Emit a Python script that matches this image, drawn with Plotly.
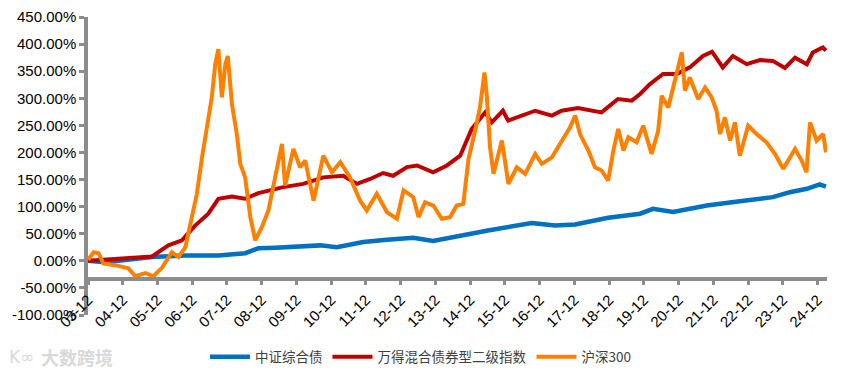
import plotly.graph_objects as go

# ---- data (decimal year, cumulative return %) ----
bond_t = [2003.92, 2004.32, 2004.79, 2005.76, 2006.72, 2007.67, 2008.44, 2008.82, 2009.31,
          2010.60, 2011.08, 2011.84, 2012.52, 2013.28, 2013.85, 2014.48, 2015.43, 2016.69,
          2017.36, 2017.94, 2018.89, 2019.81, 2020.18, 2020.76, 2021.73, 2022.68, 2023.63,
          2024.12, 2024.61, 2024.98, 2025.16]
bond_v = [0, -2, 0, 7, 10, 10, 14, 23, 24,
          28.5, 25, 34.6, 39, 42.7, 36.5, 45, 56, 69.7,
          65, 67, 79.5, 87, 96, 90, 102, 110, 117.5,
          126.7, 133, 141, 137]

mix_t = [2003.92, 2004.32, 2005.08, 2005.76, 2006.23, 2006.62, 2007.00, 2007.38, 2007.67,
         2008.06, 2008.44, 2008.82, 2009.21, 2009.54, 2010.11, 2010.69, 2011.26, 2011.66,
         2012.04, 2012.41, 2012.70, 2013.10, 2013.39, 2013.85, 2014.25, 2014.63, 2014.96,
         2015.35, 2015.54, 2015.86, 2016.01, 2016.79, 2017.27, 2017.55, 2018.02, 2018.70,
         2019.17, 2019.57, 2019.81, 2020.09, 2020.47, 2020.87, 2021.24, 2021.62, 2021.88,
         2022.19, 2022.48, 2022.88, 2023.26, 2023.63, 2023.98, 2024.27, 2024.61, 2024.78,
         2025.07, 2025.16]
mix_v = [0, 2, 5, 8, 28.5, 37.7, 65, 87, 114.5,
         118.8, 114.5, 125, 131, 136, 142, 154, 157, 142,
         151, 162, 157, 173, 176, 163.5, 176, 194, 243,
         274, 255.6, 277, 259, 277, 268, 277, 282, 274,
         298.6, 295.6, 308, 326, 345, 345, 357, 378, 386,
         357, 378, 363, 370.5, 369, 356, 375, 363, 384.5,
         393.7, 388]

hs300_t = [2003.92, 2004.08, 2004.22, 2004.36, 2004.70, 2005.08, 2005.28, 2005.57, 2005.80,
           2006.05, 2006.33, 2006.52, 2006.72, 2006.91, 2007.05, 2007.20, 2007.34, 2007.48,
           2007.58, 2007.67, 2007.77, 2007.87, 2007.94, 2008.06, 2008.20, 2008.30, 2008.44,
           2008.59, 2008.73, 2008.92, 2009.11, 2009.31, 2009.50, 2009.59, 2009.83, 2010.02,
           2010.17, 2010.41, 2010.69, 2010.94, 2011.18, 2011.46, 2011.75, 2011.94, 2012.23,
           2012.52, 2012.81, 2013.00, 2013.28, 2013.43, 2013.62, 2013.86, 2014.10, 2014.34,
           2014.53, 2014.72, 2014.87, 2015.06, 2015.20, 2015.33, 2015.40, 2015.49, 2015.59,
           2015.83, 2016.02, 2016.26, 2016.50, 2016.79, 2016.98, 2017.27, 2017.55, 2017.79,
           2017.94, 2018.08, 2018.32, 2018.51, 2018.70, 2018.89, 2019.04, 2019.18, 2019.33,
           2019.47, 2019.71, 2019.90, 2020.14, 2020.33, 2020.43, 2020.62, 2020.76, 2020.91,
           2021.01, 2021.10, 2021.24, 2021.48, 2021.68, 2021.87, 2022.01, 2022.11, 2022.25,
           2022.40, 2022.54, 2022.68, 2022.92, 2023.16, 2023.45, 2023.69, 2023.93, 2024.27,
           2024.46, 2024.60, 2024.70, 2024.89, 2025.08, 2025.16]
hs300_v = [2, 16, 14, -5, -8, -14, -28.5, -22.5, -28.5,
           -12.5, 16, 7, 25, 80.7, 123.7, 191, 252.7, 301.7,
           363, 390.8, 301.7, 363, 378, 289.5, 234, 179, 154,
           80.7, 37.8, 62, 93, 154, 216, 139, 206.6, 172.7,
           185, 111, 194, 163.5, 182, 154, 111, 93, 123.7,
           90, 77.7, 130, 117.5, 80.7, 108, 102, 77.7, 80.7,
           102, 105, 188, 240, 283, 347.7, 301.7, 209.6, 160.6,
           222, 142, 172.7, 160.6, 197.4, 179, 191, 222, 246,
           268, 234, 203.5, 172.7, 166.7, 148, 203.5, 243.5, 203.5,
           228, 218.8, 249.5, 197.4, 240, 304.8, 283, 320, 357,
           384.5, 314, 338.5, 298.6, 320, 301.7, 277, 234, 264.8,
           222, 255.6, 194, 249.5, 234, 218.8, 197.4, 169.8, 206.6,
           185, 163.5, 255.6, 222, 234, 200]

series_names = ["中证综合债", "万得混合债券型二级指数", "沪深300"]
tick_years = list(range(2003, 2025))
tick_labels = ["03-12", "04-12", "05-12", "06-12", "07-12", "08-12", "09-12", "10-12",
               "11-12", "12-12", "13-12", "14-12", "15-12", "16-12", "17-12", "18-12",
               "19-12", "20-12", "21-12", "22-12", "23-12", "24-12"]
y_ticks = [450, 400, 350, 300, 250, 200, 150, 100, 50, 0, -50, -100]
y_tick_labels = ["450.00%", "400.00%", "350.00%", "300.00%", "250.00%", "200.00%",
                 "150.00%", "100.00%", "50.00%", "0.00%", "-50.00%", "-100.00%"]

colors = ["#0070C0", "#C00000", "#FF8000"]
axis_gray = "#8C8C8C"

fig = go.Figure()
for t, v, name, c, w in [(bond_t, bond_v, series_names[0], colors[0], 4.5),
                          (mix_t, mix_v, series_names[1], colors[1], 4),
                          (hs300_t, hs300_v, series_names[2], colors[2], 4)]:
    fig.add_trace(go.Scatter(x=t, y=v, mode="lines", name=name,
                             line=dict(color=c, width=w)))

tick_pos = [y + 11 / 12 for y in tick_years]

fig.update_layout(
    width=846, height=379,
    margin=dict(l=88, r=19, t=17, b=64, autoexpand=False),
    paper_bgcolor="white", plot_bgcolor="white",
    font=dict(family="Liberation Sans, Arial, sans-serif", size=15, color="#000000"),
    showlegend=True,
    legend=dict(orientation="h", xref="container", yref="container",
                x=0.497, xanchor="center", y=0.058, yanchor="middle",
                font=dict(family="Noto Sans CJK SC", size=13.5, color="#404040"),
                itemwidth=40, tracegroupgap=0),
    xaxis=dict(range=[2003 + 11 / 12, 2025.19], tickmode="array",
               tickvals=tick_pos, ticktext=tick_labels, tickangle=-45,
               showline=True, linecolor=axis_gray, linewidth=3.5,
               ticks="outside", ticklen=5, tickwidth=3, tickcolor=axis_gray,
               showgrid=False, zeroline=False, anchor="free", position=0.122,
               automargin=False, tickfont=dict(size=15)),
    yaxis=dict(range=[-100, 450], tickmode="array", tickvals=y_ticks,
               ticktext=y_tick_labels, automargin=False,
               showline=True, linecolor=axis_gray, linewidth=3.5,
               ticks="outside", ticklen=5, tickwidth=3, tickcolor=axis_gray,
               showgrid=False, zeroline=False),
)

fig.add_annotation(text="K∞", xref="paper", yref="paper", showarrow=False,
                   x=-0.11, y=-0.14, xanchor="left", yanchor="middle",
                   font=dict(family="DejaVu Sans", size=17, color="#D9D9D9"))
fig.add_annotation(text="<b>大数跨境</b>", xref="paper", yref="paper", showarrow=False,
                   x=-0.066, y=-0.14, xanchor="left", yanchor="middle",
                   font=dict(family="Noto Sans CJK SC", size=18, color="#D9D9D9"))

fig.write_html("out.html", config={"displayModeBar": False},
               post_script="document.body.style.margin='0';document.body.style.overflow='hidden';")
